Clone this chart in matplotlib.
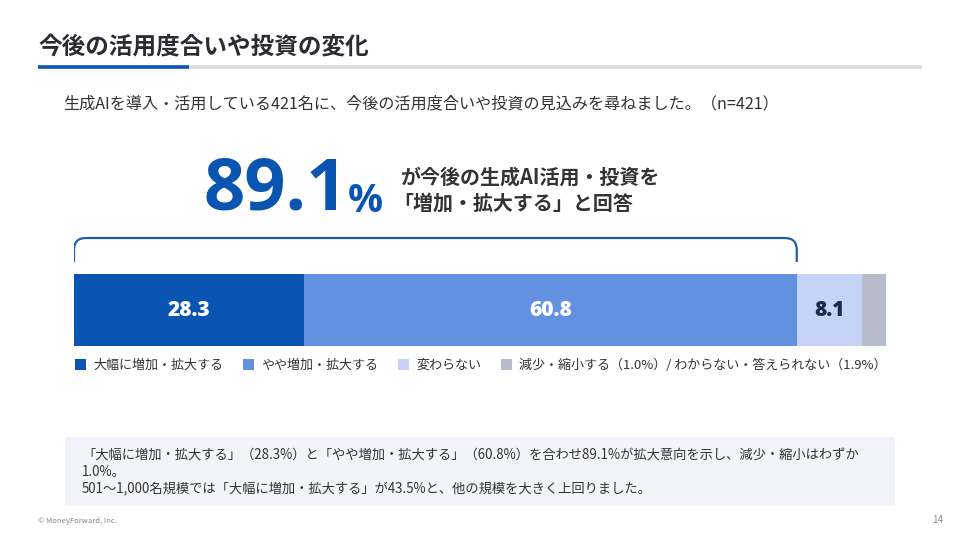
import matplotlib.pyplot as plt
from matplotlib.path import Path
from matplotlib.patches import PathPatch, Rectangle
import numpy as np

plt.rcParams['font.family'] = ['Noto Sans CJK JP', 'DejaVu Sans']

# data
categories = ['大幅に増加・拡大する', 'やや増加・拡大する', '変わらない', '減少・縮小する／わからない・答えられない']
values = [28.3, 60.8, 8.1, 2.9]
bar_labels = ['28.3', '60.8', '8.1', '']
legend_labels = ['大幅に増加・拡大する', 'やや増加・拡大する', '変わらない',
                 '減少・縮小する（1.0%）/ わからない・答えられない（1.9%）']
colors = ['#0a55b2', '#6490e2', '#c6d3f8', '#b7bccb']
label_colors = ['white', 'white', '#1f2a4a', 'white']
headline_value = '89.1'

W, H = 960, 540
fig = plt.figure(figsize=(9.6, 5.4), dpi=100)
fig.patch.set_facecolor('white')

# page axes in pixel coords (y from top)
page = fig.add_axes([0, 0, 1, 1])
page.set_xlim(0, W)
page.set_ylim(H, 0)
page.axis('off')

page.text(38, 46, '今後の活用度合いや投資の変化', fontsize=17, fontweight='bold',
          color='#2b2b33', va='center', ha='left')
page.plot([38, 189], [67, 67], color='#0a55b2', lw=2.6, solid_capstyle='butt')
page.plot([189, 922], [67, 67], color='#dcdce2', lw=2.6, solid_capstyle='butt')

page.text(63, 104, '生成AIを導入・活用している421名に、今後の活用度合いや投資の見込みを尋ねました。（n=421）',
          fontsize=11.6, color='#333333', va='center', ha='left')

page.text(204, 190, headline_value, fontsize=52, fontweight='bold', color='#0a55b2',
          family=['Open Sans', 'DejaVu Sans'], va='center', ha='left')
page.text(348, 202, '%', fontsize=28, fontweight='bold', color='#0a55b2',
          family=['Open Sans', 'DejaVu Sans'], va='center', ha='left')
page.text(400, 177, 'が今後の生成AI活用・投資を', fontsize=14.4, fontweight='bold',
          color='#333333', va='center', ha='left')
page.text(393, 203, '「増加・拡大する」と回答', fontsize=14.4, fontweight='bold',
          color='#333333', va='center', ha='left')

# legend
lx = [75, 243, 398, 501]
for x, lab, c in zip(lx, legend_labels, colors):
    page.add_patch(Rectangle((x, 359), 11, 11, color=c, lw=0))
    page.text(x + 18, 365, lab, fontsize=9.4, color='#333333', va='center', ha='left')

# bottom note box
page.add_patch(Rectangle((65, 437), 830, 69, color='#f3f4fb', lw=0))
notes = ['「大幅に増加・拡大する」（28.3%）と「やや増加・拡大する」（60.8%）を合わせ89.1%が拡大意向を示し、減少・縮小はわずか',
         '1.0%。',
         '501〜1,000名規模では「大幅に増加・拡大する」が43.5%と、他の規模を大きく上回りました。']
for i, line in enumerate(notes):
    page.text(82, 455 + i * 17, line, fontsize=9.55, color='#333333', va='center', ha='left')

page.text(38, 521, '© MoneyForward, Inc.', fontsize=5.5, color='#888888', va='center', ha='left')
page.text(943, 520, '14', fontsize=7, color='#888888', va='center', ha='right')

# bar axes
total = sum(values)
x0, x1 = 74, 886
yt, yb = 225, 350
ax = fig.add_axes([x0 / W, 1 - yb / H, (x1 - x0) / W, (yb - yt) / H])
ax.set_xlim(0, total)
ax.set_ylim(yb, yt)
ax.axis('off')

lefts = np.concatenate([[0], np.cumsum(values)[:-1]])
ax.barh(310, values, left=lefts, height=72, color=colors, edgecolor='none')
for l, v, lab, tc in zip(lefts, values, bar_labels, label_colors):
    if lab:
        ax.text(l + v / 2, 311, lab, ha='center', va='center', fontsize=15,
                fontweight='heavy', color=tc, family=['Open Sans', 'DejaVu Sans'])

# bracket above the increase share
span = values[0] + values[1]
rx = 12 * total / (x1 - x0)
verts = [(0, 262), (0, 250), (0, 238), (rx, 238), (span - rx, 238),
         (span, 238), (span, 250), (span, 262)]
codes = [Path.MOVETO, Path.LINETO, Path.CURVE3, Path.CURVE3, Path.LINETO,
         Path.CURVE3, Path.CURVE3, Path.LINETO]
ax.add_patch(PathPatch(Path(verts, codes), fill=False, edgecolor='#1f5fb0', lw=1.6))

fig.savefig('out.png', dpi=100)
